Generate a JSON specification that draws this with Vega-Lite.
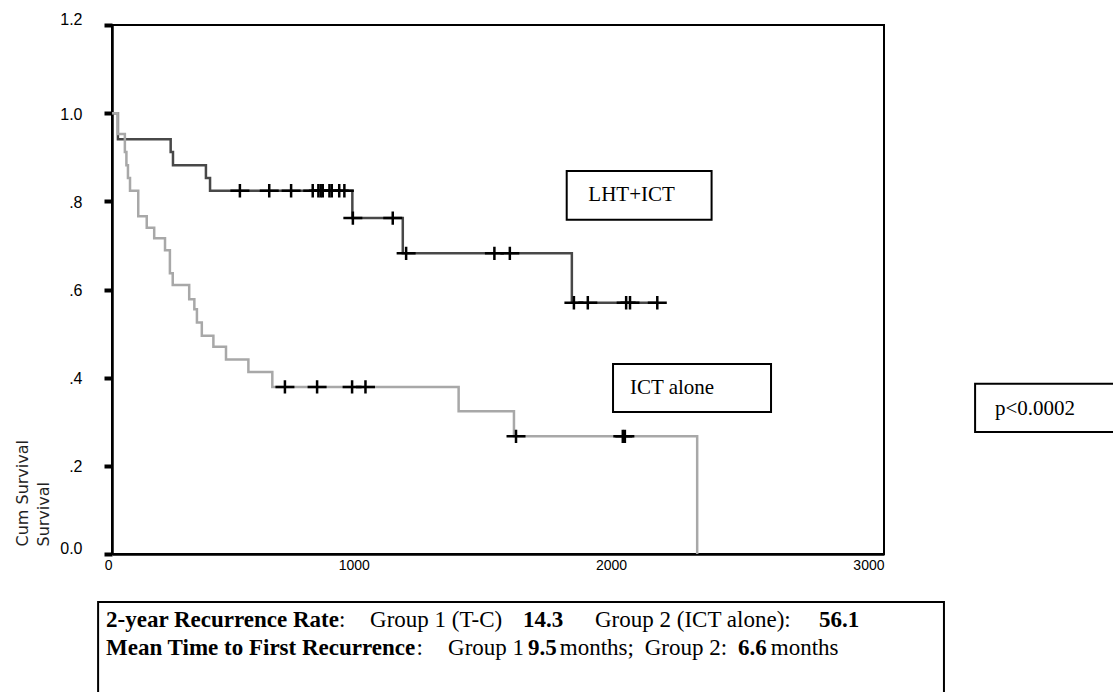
{
  "$schema": "https://vega.github.io/schema/vega-lite/v6.json",
  "width": 772,
  "height": 529,
  "autosize": {"type": "none"},
  "padding": {"left": 112, "top": 25, "right": 229, "bottom": 138},
  "background": "white",
  "config": {
    "view": {"stroke": "black", "strokeWidth": 2},
    "axis": {"grid": false}
  },
  "datasets": {
    "curves": [
      {"group": "LHT+ICT", "days": 0, "surv": 1.0},
      {"group": "LHT+ICT", "days": 23, "surv": 0.941},
      {"group": "LHT+ICT", "days": 228, "surv": 0.912},
      {"group": "LHT+ICT", "days": 237, "surv": 0.882},
      {"group": "LHT+ICT", "days": 365, "surv": 0.853},
      {"group": "LHT+ICT", "days": 381, "surv": 0.824},
      {"group": "LHT+ICT", "days": 934, "surv": 0.762},
      {"group": "LHT+ICT", "days": 1130, "surv": 0.682},
      {"group": "LHT+ICT", "days": 1787, "surv": 0.570},
      {"group": "LHT+ICT", "days": 2119, "surv": 0.570},
      {"group": "ICT alone", "days": 0, "surv": 1.0},
      {"group": "ICT alone", "days": 22, "surv": 0.953},
      {"group": "ICT alone", "days": 50, "surv": 0.912},
      {"group": "ICT alone", "days": 56, "surv": 0.882},
      {"group": "ICT alone", "days": 62, "surv": 0.853},
      {"group": "ICT alone", "days": 70, "surv": 0.824},
      {"group": "ICT alone", "days": 102, "surv": 0.766},
      {"group": "ICT alone", "days": 135, "surv": 0.740},
      {"group": "ICT alone", "days": 164, "surv": 0.716},
      {"group": "ICT alone", "days": 206, "surv": 0.689},
      {"group": "ICT alone", "days": 225, "surv": 0.637},
      {"group": "ICT alone", "days": 236, "surv": 0.610},
      {"group": "ICT alone", "days": 300, "surv": 0.578},
      {"group": "ICT alone", "days": 320, "surv": 0.555},
      {"group": "ICT alone", "days": 330, "surv": 0.525},
      {"group": "ICT alone", "days": 349, "surv": 0.495},
      {"group": "ICT alone", "days": 394, "surv": 0.470},
      {"group": "ICT alone", "days": 443, "surv": 0.441},
      {"group": "ICT alone", "days": 530, "surv": 0.413},
      {"group": "ICT alone", "days": 623, "surv": 0.379},
      {"group": "ICT alone", "days": 1347, "surv": 0.324},
      {"group": "ICT alone", "days": 1562, "surv": 0.267},
      {"group": "ICT alone", "days": 2274, "surv": 0.0}
    ],
    "censored": [
      {"group": "LHT+ICT", "days": 497, "surv": 0.824},
      {"group": "LHT+ICT", "days": 611, "surv": 0.824},
      {"group": "LHT+ICT", "days": 696, "surv": 0.824},
      {"group": "LHT+ICT", "days": 780, "surv": 0.824},
      {"group": "LHT+ICT", "days": 802, "surv": 0.824},
      {"group": "LHT+ICT", "days": 811, "surv": 0.824},
      {"group": "LHT+ICT", "days": 819, "surv": 0.824},
      {"group": "LHT+ICT", "days": 845, "surv": 0.824},
      {"group": "LHT+ICT", "days": 854, "surv": 0.824},
      {"group": "LHT+ICT", "days": 883, "surv": 0.824},
      {"group": "LHT+ICT", "days": 903, "surv": 0.824},
      {"group": "LHT+ICT", "days": 936, "surv": 0.762},
      {"group": "LHT+ICT", "days": 1091, "surv": 0.762},
      {"group": "LHT+ICT", "days": 1143, "surv": 0.682},
      {"group": "LHT+ICT", "days": 1486, "surv": 0.682},
      {"group": "LHT+ICT", "days": 1546, "surv": 0.682},
      {"group": "LHT+ICT", "days": 1795, "surv": 0.570},
      {"group": "LHT+ICT", "days": 1849, "surv": 0.570},
      {"group": "LHT+ICT", "days": 1998, "surv": 0.570},
      {"group": "LHT+ICT", "days": 2013, "surv": 0.570},
      {"group": "LHT+ICT", "days": 2119, "surv": 0.570},
      {"group": "ICT alone", "days": 672, "surv": 0.379},
      {"group": "ICT alone", "days": 797, "surv": 0.379},
      {"group": "ICT alone", "days": 933, "surv": 0.379},
      {"group": "ICT alone", "days": 985, "surv": 0.379},
      {"group": "ICT alone", "days": 1570, "surv": 0.267},
      {"group": "ICT alone", "days": 1985, "surv": 0.267},
      {"group": "ICT alone", "days": 1993, "surv": 0.267}
    ],
    "boxes": [
      {"label": "LHT+ICT", "x": 1767, "x2": 2330, "y": 0.869, "y2": 0.758},
      {"label": "ICT alone", "x": 1947, "x2": 2561, "y": 0.431, "y2": 0.322},
      {"label": "p", "x": 3354, "x2": 4000, "y": 0.386, "y2": 0.277},
      {"label": "summary", "x": -54, "x2": 3233, "y": -0.109, "y2": -0.5}
    ],
    "boxlabels": [
      {"text": "LHT+ICT", "x": 1851, "y": 0.814},
      {"text": "ICT alone", "x": 2013, "y": 0.376},
      {"text": "p<0.0002", "x": 3431, "y": 0.329}
    ],
    "notesBold": [
      {"text": "2-year Recurrence Rate", "x": -23, "y": -0.150},
      {"text": "14.3", "x": 1597, "y": -0.150},
      {"text": "56.1", "x": 2747, "y": -0.150},
      {"text": "Mean Time to First Recurrence", "x": -23, "y": -0.214},
      {"text": "9.5", "x": 1617, "y": -0.214},
      {"text": "6.6", "x": 2433, "y": -0.214}
    ],
    "notesNormal": [
      {"text": ":", "x": 882, "y": -0.150},
      {"text": "Group 1 (T-C)", "x": 1003, "y": -0.150},
      {"text": "Group 2 (ICT alone):", "x": 1877, "y": -0.150},
      {"text": ":", "x": 1183, "y": -0.214},
      {"text": "Group 1", "x": 1306, "y": -0.214},
      {"text": "months;", "x": 1740, "y": -0.214},
      {"text": "Group 2:", "x": 2070, "y": -0.214},
      {"text": "months", "x": 2560, "y": -0.214}
    ]
  },
  "layer": [
    {
      "data": {"name": "curves"},
      "mark": {"type": "line", "interpolate": "step-after", "strokeWidth": 2.5},
      "encoding": {
        "x": {
          "field": "days", "type": "quantitative",
          "scale": {"domain": [0, 3000], "nice": false, "zero": false},
          "axis": {
            "values": [0, 1000, 2000, 3000], "format": "d", "title": null,
            "ticks": false, "labelAlign": "right", "labelDx": 4, "labelPadding": 4,
            "labelFont": "Liberation Sans", "labelFontSize": 14, "labelColor": "black",
            "domainColor": "black", "domainWidth": 2.5, "labelFlush": false
          }
        },
        "y": {
          "field": "surv", "type": "quantitative",
          "scale": {"domain": [0, 1.2], "nice": false, "zero": false},
          "axis": {
            "values": [0, 0.2, 0.4, 0.6, 0.8, 1, 1.2],
            "labelExpr": "datum.value == 0 ? '0.0' : (datum.value < 1 ? substring(format(datum.value, '.1f'), 1) : format(datum.value, '.1f'))",
            "labelOffset": {"condition": {"test": "datum.value == 0 || datum.value > 1.1", "value": -6}, "value": 1},
            "tickSize": 8, "tickWidth": 4, "tickColor": "black",
            "domainColor": "black", "domainWidth": 2.5,
            "labelFont": "Liberation Sans", "labelFontSize": 16, "labelColor": "black", "labelPadding": 22,
            "title": ["Cum Survival", "Survival"],
            "titleFont": "DejaVu Sans", "titleFontSize": 16, "titleFontWeight": "normal", "titleColor": "#222",
            "titleAngle": -90, "titleX": -98, "titleY": 521, "titleAlign": "left", "titleBaseline": "top",
            "titleLineHeight": 21
          }
        },
        "color": {
          "field": "group", "type": "nominal",
          "scale": {"domain": ["LHT+ICT", "ICT alone"], "range": ["#484848", "#a8a8a8"]},
          "legend": null
        },
        "order": {"field": "days", "type": "quantitative"}
      }
    },
    {
      "data": {"name": "censored"},
      "mark": {"type": "point", "shape": "M-1,0H1M0,-0.7V0.7", "size": 361, "stroke": "black", "strokeWidth": 2.5, "filled": false, "opacity": 1},
      "encoding": {
        "x": {"field": "days", "type": "quantitative"},
        "y": {"field": "surv", "type": "quantitative"}
      }
    },
    {
      "data": {"name": "boxes"},
      "mark": {"type": "rect", "fill": null, "fillOpacity": 0, "stroke": "black", "strokeWidth": 2},
      "encoding": {
        "x": {"field": "x", "type": "quantitative"},
        "x2": {"field": "x2"},
        "y": {"field": "y", "type": "quantitative"},
        "y2": {"field": "y2"}
      }
    },
    {
      "data": {"name": "boxlabels"},
      "mark": {"type": "text", "align": "left", "baseline": "middle", "font": "Liberation Serif", "fontSize": 21, "color": "black"},
      "encoding": {
        "x": {"field": "x", "type": "quantitative"},
        "y": {"field": "y", "type": "quantitative"},
        "text": {"field": "text"}
      }
    },
    {
      "data": {"name": "notesBold"},
      "mark": {"type": "text", "align": "left", "baseline": "middle", "font": "Liberation Serif", "fontSize": 23, "fontWeight": "bold", "color": "black"},
      "encoding": {
        "x": {"field": "x", "type": "quantitative"},
        "y": {"field": "y", "type": "quantitative"},
        "text": {"field": "text"}
      }
    },
    {
      "data": {"name": "notesNormal"},
      "mark": {"type": "text", "align": "left", "baseline": "middle", "font": "Liberation Serif", "fontSize": 23, "color": "black"},
      "encoding": {
        "x": {"field": "x", "type": "quantitative"},
        "y": {"field": "y", "type": "quantitative"},
        "text": {"field": "text"}
      }
    }
  ]
}
